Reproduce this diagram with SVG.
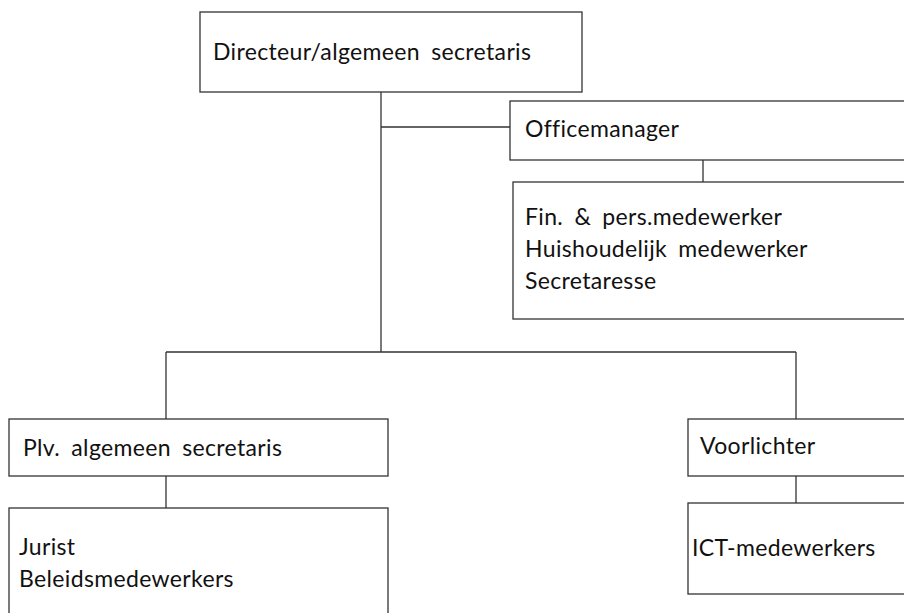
<svg xmlns="http://www.w3.org/2000/svg" width="904" height="613" viewBox="0 0 904 613">
<style>
.box{fill:#fff;stroke:#333;stroke-width:1.3}
.ln{fill:none;stroke:#333;stroke-width:1.3}
text{font-family:Lato,"Liberation Sans",sans-serif;font-size:23px;fill:#111;letter-spacing:0.35px;word-spacing:5px}
</style>
<rect width="904" height="613" fill="#fff"/>
<g id="connectors">
<path class="ln" d="M381 92V352M381 127H510M703 160V182M166 352H796M166 352V419M796 352V419M166 476V508M796 476V503"/>
</g>
<g id="n-directeur"><rect class="box" x="200" y="12" width="382" height="80"/><text x="213" y="60">Directeur/algemeen secretaris</text></g>
<g id="n-office"><rect class="box" x="510" y="101" width="410" height="59"/><text x="525" y="137">Officemanager</text></g>
<g id="n-staff"><rect class="box" x="513" y="182" width="410" height="137"/><text x="525" y="225">Fin. &amp; pers.medewerker</text><text x="525" y="257">Huishoudelijk medewerker</text><text x="525" y="289">Secretaresse</text></g>
<g id="n-plv"><rect class="box" x="9" y="419" width="379" height="57"/><text x="23" y="456">Plv. algemeen secretaris</text></g>
<g id="n-jurist"><rect class="box" x="9" y="508" width="379" height="120"/><text x="19" y="555">Jurist</text><text x="19" y="587">Beleidsmedewerkers</text></g>
<g id="n-voorlichter"><rect class="box" x="688" y="419" width="230" height="57"/><text x="700" y="454">Voorlichter</text></g>
<g id="n-ict"><rect class="box" x="688" y="503" width="230" height="91"/><text x="692" y="556">ICT-medewerkers</text></g>
</svg>
